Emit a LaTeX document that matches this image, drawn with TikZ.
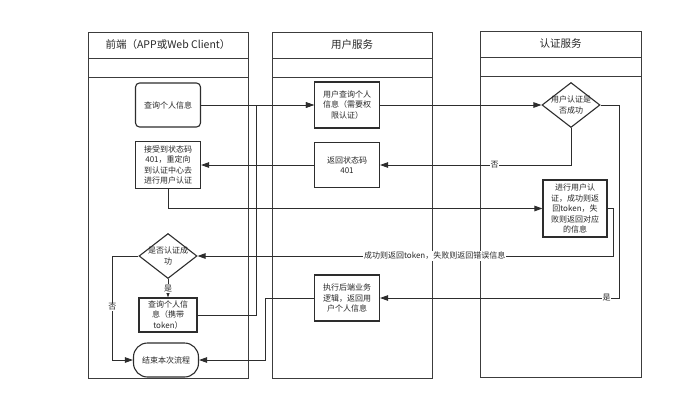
\documentclass[tikz,border=0pt]{standalone}
\usepackage{fontspec}
\setmainfont{Noto Sans CJK SC}
\usepackage{tikz}
\usetikzlibrary{shapes.geometric, arrows.meta, positioning, calc}
\definecolor{mydark}{RGB}{45,45,45}
\definecolor{mytext}{RGB}{40,40,40}
\definecolor{mylane}{RGB}{60,60,60}
\tikzset{
  lane/.style={draw=mylane, line width=0.9pt},
  lanetitle/.style={font=\fontsize{10.5}{12}\selectfont, text=mytext, inner sep=0pt},
  block/.style={rectangle, draw=mydark, fill=white, align=center,
    minimum width=65pt, minimum height=46pt, inner sep=1pt,
    font=\fontsize{8}{10.5}\selectfont, text=mytext, line width=1.1pt},
  decision/.style={diamond, draw=mydark, fill=white, align=center,
    aspect=1.26, inner sep=-2pt, minimum width=58pt, minimum height=45pt,
    font=\fontsize{8}{10.5}\selectfont, text=mytext, line width=1.1pt},
  arrow/.style={-{Triangle[length=8pt, width=5.5pt]}, line width=0.9pt, color=mydark},
  lbl/.style={fill=white, inner sep=0.8pt, font=\fontsize{8}{10}\selectfont, text=mytext}
}

\begin{document}
\begin{tikzpicture}[x=1pt, y=-1pt]
  \useasboundingbox (0,0) rectangle (680,418);

  % Lanes
  \draw[lane] (88,32) rectangle (248,378);
  \draw[lane] (88,58) -- (248,58) (88,77) -- (248,77);
  \node[lanetitle] (front) at (168,45) {前端（APP或Web Client）};

  \draw[lane] (272,32) rectangle (432,378);
  \draw[lane] (272,58) -- (432,58) (272,77) -- (432,77);
  \node[lanetitle] (usersvc) at (352,45) {用户服务};

  \draw[lane] (480,31) rectangle (641,377);
  \draw[lane] (480,57) -- (641,57) (480,76) -- (641,76);
  \node[lanetitle] (authsvc) at (560.5,44) {认证服务};

  % Blocks
  \node[block, rounded corners=4pt, minimum height=44pt] (query) at (168,105) {查询个人信息};
  \node[block, minimum height=47pt] (recv) at (168,165) {接受到状态码\\401，重定向\\到认证中心去\\进行用户认证};
  \node[decision] (ok) at (168,256) {是否认证成\\功};
  \node[block, minimum width=58pt, minimum height=34pt, inner sep=0.5pt] (querytok) at (168,315) {查询个人信\\息（携带\\token）};
  \node[block, rounded corners=14pt, minimum height=34pt] (finish) at (166,360) {结束本次流程};

  \node[block] (userquery) at (347,105) {用户查询个人\\信息（需要权\\限认证）};
  \node[block, minimum height=45pt] (ret401) at (347,165) {返回状态码\\401};
  \node[block] (exec) at (347,298) {执行后端业务\\逻辑，返回用\\户个人信息};

  \node[decision] (authok) at (571,105) {用户认证是\\否成功};
  \node[block, minimum width=64pt, minimum height=57pt] (verify) at (575,208.5) {进行用户认\\证，成功则返\\回token，失\\败则返回对应\\的信息};

  % Flows
  \draw[arrow] (query) -- (userquery);
  \draw[arrow] (userquery) -- (authok);
  \draw[arrow] (authok.south) |- (ret401) node[pos=0.7, lbl] {否};
  \draw[arrow] (ret401) -- (recv);
  \draw[arrow] (recv.south) |- (verify);
  \draw[arrow] (verify.east) -- ++(6,0) |- (ok) node[pos=0.715, lbl] {成功则返回token，失败则返回错误信息};
  \draw[arrow] (ok) -- (querytok) node[midway, lbl] {是};
  \draw[arrow] (ok.west) -- ++(-26,0) |- (finish) node[pos=0.245, lbl] {否};
  \draw[arrow] (querytok.east) -- ++(59,0) |- (userquery);
  \draw[arrow] (authok.east) -- ++(19,0) |- (exec) node[pos=0.527, lbl] {是};
  \draw[arrow] (exec.west) -- ++(-49,0) |- (finish);
\end{tikzpicture}
\end{document}
